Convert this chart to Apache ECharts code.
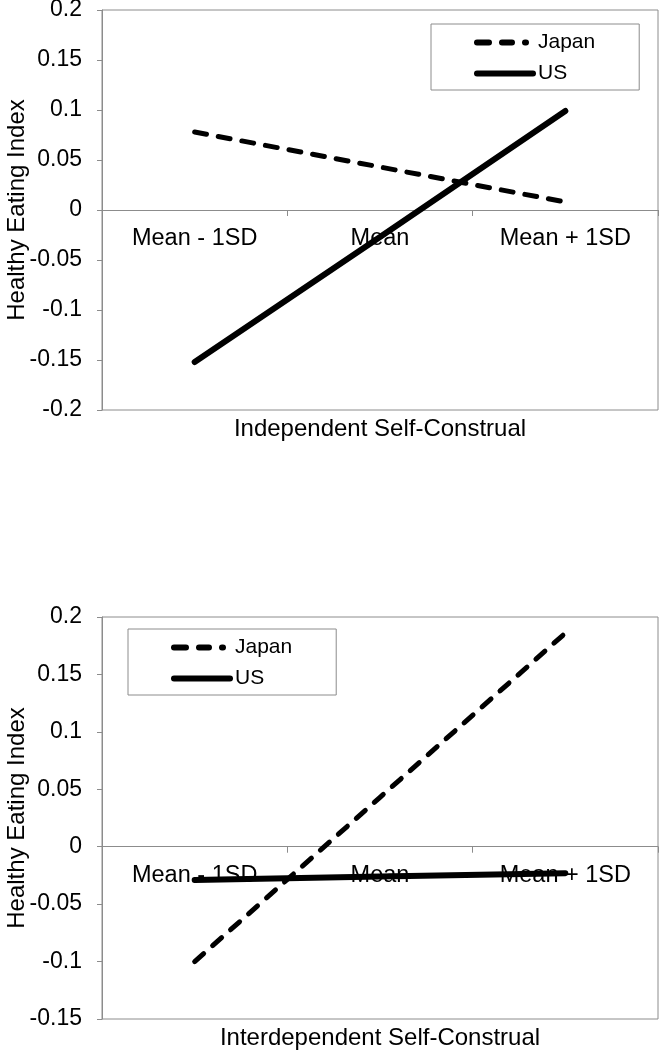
<!DOCTYPE html>
<html>
<head>
<meta charset="utf-8">
<script src="https://cdn.jsdelivr.net/npm/echarts@6/dist/echarts.min.js"></script>
<style>
html,body{margin:0;padding:0;background:#fff;}
#chart{width:663px;height:1050px;}
</style>
</head>
<body>
<div id="chart"></div>
<script>
// ---- data ----
var categories = ['Mean - 1SD', 'Mean', 'Mean + 1SD'];
var japanIndependent = [0.078, 0.043, 0.008];
var usIndependent = [-0.152, -0.027, 0.099];
var japanInterdependent = [-0.100, 0.043, 0.186];
var usInterdependent = [-0.029, -0.026, -0.023];
var yRangeTop = [-0.2, 0.2];
var yRangeBottom = [-0.15, 0.2];
var yStep = 0.05;
var seriesNames = ['Japan', 'US'];
var xTitles = ['Independent Self-Construal', 'Interdependent Self-Construal'];
var yTitle = 'Healthy Eating Index';

// ---- style ----
var FONT = 'Liberation Sans, Arial, sans-serif';
var GRAY = '#8c8c8c';
var japanDash = [12, 12];
var legendJapanDash = [12, 13, 10, 13, 1, 50];
var grids = [{top: 10, height: 400}, {top: 617, height: 402}];
var ranges = [yRangeTop, yRangeBottom];

var chart = echarts.init(document.getElementById('chart'), null, {renderer: 'canvas'});

function grid(g) {
  return {left: 102, top: g.top, width: 556, height: g.height, show: true,
    containLabel: false, outerBoundsMode: 'none',
    borderColor: GRAY, borderWidth: 1, backgroundColor: 'transparent'};
}
// axis drawn at the zero line: line + ticks
function zeroX(gi) {
  return {type: 'category', gridIndex: gi, data: categories, boundaryGap: true,
    axisLine: {show: true, onZero: true, lineStyle: {color: GRAY, width: 1}},
    axisTick: {show: true, length: 6, lineStyle: {color: GRAY}},
    axisLabel: {show: false}, splitLine: {show: false}};
}
// axis at the grid bottom: category labels (lifted to just under the zero line) + title
function labelX(gi, name) {
  var g = grids[gi], r = ranges[gi];
  var zeroFromBottom = g.height * (0 - r[0]) / (r[1] - r[0]);
  return {type: 'category', gridIndex: gi, data: categories, position: 'bottom', boundaryGap: true,
    axisLine: {show: false, onZero: false}, axisTick: {show: false},
    axisLabel: {show: true, color: '#000', fontSize: 23.5, fontFamily: FONT,
      margin: -zeroFromBottom + 17, hideOverlap: false},
    splitLine: {show: false},
    name: name, nameLocation: 'middle', nameGap: 7, nameMoveOverlap: false,
    nameTextStyle: {color: '#000', fontSize: 24, fontFamily: FONT}};
}
function yAx(gi, range) {
  return {type: 'value', gridIndex: gi, min: range[0], max: range[1], interval: yStep,
    axisLine: {show: true, onZero: false, lineStyle: {color: GRAY, width: 1}},
    axisTick: {show: true, length: 5, lineStyle: {color: GRAY}},
    axisLabel: {color: '#000', fontSize: 23, fontFamily: FONT, margin: 20},
    splitLine: {show: false},
    name: yTitle, nameLocation: 'middle', nameGap: 73, nameRotate: 90, nameMoveOverlap: false,
    nameTextStyle: {color: '#000', fontSize: 24, fontFamily: FONT}};
}
function lineSeries(name, data, gi, dashed) {
  return {type: 'line', name: name, data: data, xAxisIndex: gi * 2, yAxisIndex: gi,
    symbol: 'none', silent: true, animation: false,
    itemStyle: {color: '#000'},
    lineStyle: dashed ? {color: '#000', width: 5, type: japanDash, cap: 'round'}
                      : {color: '#000', width: 6, cap: 'round'}};
}
function legend(left, top) {
  return {orient: 'vertical', left: left, top: top,
    borderColor: GRAY, borderWidth: 1, borderRadius: 0,
    padding: [8, 44, 6, 43], itemGap: 10, itemWidth: 56, itemHeight: 6,
    selectedMode: false,
    textStyle: {color: '#000', fontSize: 21, fontFamily: FONT, padding: [0, 0, 0, 0]},
    itemStyle: {color: '#000', borderWidth: 0},
    data: [
      {name: seriesNames[0], lineStyle: {color: '#000', width: 6, type: legendJapanDash, cap: 'round'}},
      {name: seriesNames[1], lineStyle: {color: '#000', width: 6, type: 'solid', cap: 'round'}}
    ]};
}

chart.setOption({
  backgroundColor: '#fff',
  animation: false,
  grid: [grid(grids[0]), grid(grids[1])],
  xAxis: [zeroX(0), labelX(0, xTitles[0]), zeroX(1), labelX(1, xTitles[1])],
  yAxis: [yAx(0, yRangeTop), yAx(1, yRangeBottom)],
  legend: [legend(431, 24), legend(128, 629)],
  series: [
    lineSeries(seriesNames[0], japanIndependent, 0, true),
    lineSeries(seriesNames[1], usIndependent, 0, false),
    lineSeries(seriesNames[0], japanInterdependent, 1, true),
    lineSeries(seriesNames[1], usInterdependent, 1, false)
  ]
});
</script>
</body>
</html>
